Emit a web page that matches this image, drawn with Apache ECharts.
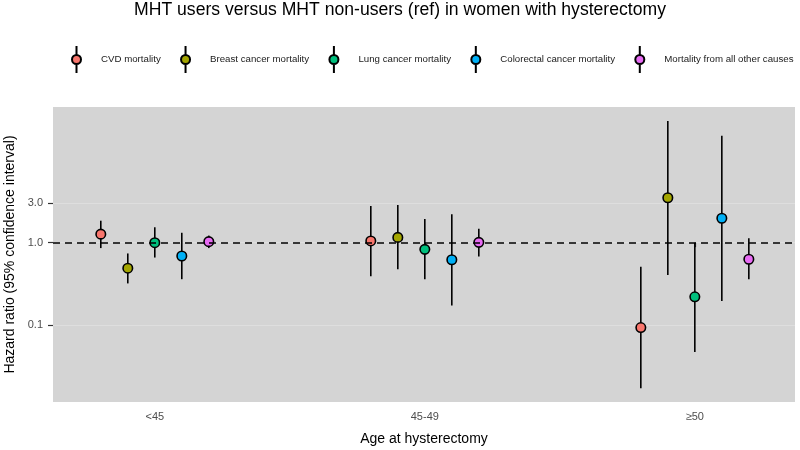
<!DOCTYPE html>
<html>
<head>
<meta charset="utf-8">
<script src="https://cdn.jsdelivr.net/npm/echarts@6/dist/echarts.min.js"></script>
<style>html,body{margin:0;padding:0;background:#fff}#c{width:800px;height:450px}</style>
</head>
<body>
<div id="c"></div>
<script>
// ---- data ----
const categories = ['<45', '45-49', '\u226550'];
const causes = ['CVD mortality', 'Breast cancer mortality', 'Lung cancer mortality', 'Colorectal cancer mortality', 'Mortality from all other causes'];
const colors = ['#F8766D', '#A3A500', '#00BF7D', '#00B0F6', '#E76BF3'];
const yTicks = [0.1, 1.0, 3.0];

const cvdHR = [1.27, 1.05, 0.093];
const cvdLo = [0.86, 0.39, 0.017];
const cvdHi = [1.85, 2.79, 0.51];

const breastHR = [0.49, 1.16, 3.52];
const breastLo = [0.32, 0.475, 0.405];
const breastHi = [0.74, 2.87, 30.1];

const lungHR = [1.0, 0.83, 0.22];
const lungLo = [0.66, 0.36, 0.047];
const lungHi = [1.54, 1.94, 1.0];

const colorectalHR = [0.69, 0.62, 1.98];
const colorectalLo = [0.36, 0.172, 0.196];
const colorectalHi = [1.32, 2.21, 19.9];

const otherHR = [1.03, 1.01, 0.63];
const otherLo = [0.86, 0.68, 0.36];
const otherHi = [1.22, 1.48, 1.13];

const hrs = [cvdHR, breastHR, lungHR, colorectalHR, otherHR];
const los = [cvdLo, breastLo, lungLo, colorectalLo, otherLo];
const his = [cvdHi, breastHi, lungHi, colorectalHi, otherHi];
const dodge = [-0.2, -0.1, 0, 0.1, 0.2];

const L = Math.log10;
const font = 'Liberation Sans, Arial, Helvetica, sans-serif';

const ciData = [];
causes.forEach((c, i) => {
  categories.forEach((cat, j) => {
    ciData.push([j + 1 + dodge[i], L(los[i][j]), L(his[i][j])]);
  });
});

const series = [{
  type: 'custom',
  name: 'ci',
  z: 2,
  encode: { x: 0, y: [1, 2] },
  data: ciData,
  renderItem: function (params, api) {
    const x = api.value(0);
    const p1 = api.coord([x, api.value(1)]);
    const p2 = api.coord([x, api.value(2)]);
    return { type: 'line', shape: { x1: p1[0], y1: p1[1], x2: p2[0], y2: p2[1] },
      style: { stroke: '#000', lineWidth: 1.6 } };
  },
  markLine: {
    silent: true, symbol: 'none', label: { show: false },
    lineStyle: { color: '#000', type: [7, 5], width: 1.6 },
    data: [{ yAxis: 0 }]
  }
}];
causes.forEach((c, i) => {
  series.push({
    type: 'scatter',
    name: c,
    z: 3,
    symbol: 'circle',
    symbolSize: 9.5,
    itemStyle: { color: colors[i], borderColor: '#000', borderWidth: 1.6, opacity: 1 },
    data: categories.map((cat, j) => [j + 1 + dodge[i], L(hrs[i][j])])
  });
});

const chart = echarts.init(document.getElementById('c'));
chart.setOption({
  animation: false,
  textStyle: { fontFamily: font },
  title: {
    text: 'MHT users versus MHT non-users (ref) in women with hysterectomy',
    left: 'center', top: 1, padding: 0,
    textStyle: { fontFamily: font, fontSize: 17.6, fontWeight: 'normal', color: '#000' }
  },
  legend: {
    data: causes,
    left: 71, top: 45, width: 780, padding: 0,
    itemWidth: 9, itemHeight: 27, itemGap: 19.3,
    icon: 'path://M4.5,0 L4.5,9 M4.5,18 L4.5,27 M0,13.5 A4.5,4.5 0 1 1 9,13.5 A4.5,4.5 0 1 1 0,13.5 Z',
    textStyle: { fontFamily: font, fontSize: 9.7, color: '#1a1a1a', padding: [0, 0, 0, 15] }
  },
  grid: { left: 53, right: 5, top: 107, bottom: 48, show: true, backgroundColor: '#d4d4d4', borderWidth: 0, outerBoundsMode: 'none', containLabel: false },
  xAxis: {
    type: 'value', min: 0.623, max: 3.371,
    name: 'Age at hysterectomy', nameLocation: 'middle', nameGap: 30,
    nameTextStyle: { fontFamily: font, fontSize: 14, color: '#000' },
    axisLine: { show: false },
    axisTick: { show: true, length: 4.5, lineStyle: { color: '#333', width: 1.2 }, customValues: [1, 2, 3] },
    axisLabel: { customValues: [1, 2, 3], formatter: v => categories[Math.round(v) - 1], color: '#4d4d4d', fontSize: 11, margin: 9 },
    splitLine: { show: false }
  },
  yAxis: {
    type: 'value', min: -1.936, max: 1.649,
    name: 'Hazard ratio (95% confidence interval)', nameLocation: 'middle', nameGap: 32,
    nameTextStyle: { fontFamily: font, fontSize: 14, color: '#000' },
    axisLine: { show: false },
    axisTick: { show: true, length: 5, lineStyle: { color: '#333', width: 1.2 }, customValues: yTicks.map(L) },
    axisLabel: { customValues: yTicks.map(L), formatter: v => Math.pow(10, v).toFixed(1), color: '#4d4d4d', fontSize: 11, margin: 10 },
    splitLine: { show: true, lineStyle: { color: '#dedede', width: 1 } }
  },
  series: series
});
</script>
</body>
</html>
